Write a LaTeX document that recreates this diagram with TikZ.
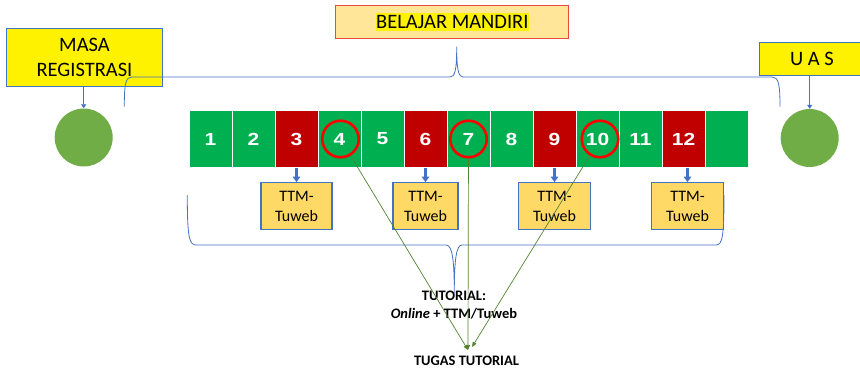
\documentclass[tikz,border=0pt]{standalone}
\usepackage{graphicx}
\usepackage{fontspec}
\setmainfont{Carlito}
\newfontfamily\arialfont{Liberation Sans}
\usetikzlibrary{arrows.meta,positioning,calc}
\definecolor{cellgreen}{RGB}{0,176,80}
\definecolor{cellred}{RGB}{192,0,0}
\definecolor{boxblue}{RGB}{68,114,196}
\definecolor{ttmfill}{RGB}{255,217,102}
\definecolor{mandirifill}{RGB}{255,230,153}
\definecolor{mandiriline}{RGB}{231,76,60}
\definecolor{dotgreen}{RGB}{112,173,71}
\definecolor{linegreen}{RGB}{84,130,53}
\tikzset{
     week cell/.style={minimum width=43pt, minimum height=57.5pt, inner sep=0pt, draw=white, line width=0.8pt,
        text=white, font=\arialfont\bfseries\fontsize{17.5}{18}\selectfont},
     ring/.style={circle, draw=red, line width=2.6pt, minimum size=36.5pt, inner sep=0pt},
     label box/.style={draw=boxblue, line width=1pt, fill=yellow, align=center, font=\fontsize{20.5}{25}\selectfont},
     mandiri box/.style={draw=mandiriline, line width=1pt, fill=mandirifill, minimum width=233pt, minimum height=33pt},
     ttm box/.style={draw=boxblue, line width=1.1pt, fill=ttmfill, minimum height=47pt, align=center,
        font=\fontsize{16}{20}\selectfont},
     ttm arrow/.style={boxblue, line width=2.4pt, -{Triangle[width=7.5pt,length=5.5pt]}},
     thin arrow/.style={boxblue, line width=0.8pt, -{Triangle[width=5pt,length=4pt]}},
     stage dot/.style={circle, fill=dotgreen, minimum size=58pt, inner sep=0pt},
     brace line/.style={boxblue, line width=0.8pt},
     tugas arrow/.style={linegreen, line width=0.7pt, -{Triangle[width=4pt,length=5pt]}},
     tut text/.style={align=center, font=\bfseries\fontsize{14.5}{18}\selectfont},
    }

\begin{document}
\begin{tikzpicture}[x=1pt, y=-1pt]
  \useasboundingbox (0,0) rectangle (860,369);

  % top labels
  \node [mandiri box] (mandiri) at (452.3,22) {};
  \node [fill=yellow, inner xsep=0.5pt, inner ysep=2pt, font=\fontsize{20.5}{24}\selectfont] (mandiri text) at (mandiri) {BELAJAR MANDIRI};
  \node [label box, minimum width=155.6pt, minimum height=57.7pt] (masa) at (84.5,57.2) {MASA\\REGISTRASI};
  \node [label box, minimum width=105.7pt, minimum height=32.3pt] (uas) at (812,58.9) {U A S};

  % weeks
  \foreach \i in {1,...,13} {
    \pgfmathtruncatemacro{\wkmod}{mod(\i,3)}
    \ifnum\wkmod=0 \def\wkcol{cellred}\else\def\wkcol{cellgreen}\fi
    \node [week cell, fill=\wkcol] (w\i) at ({167.5+43*\i},139) {\ifnum\i<13 \scalebox{1.2}[1]{\i}\fi};
  }
  \foreach \i/\dx in {4/1pt,7/0pt,10/2.5pt}
    \node [ring, xshift=\dx] (r\i) at (w\i) {};

  % TTM boxes
  \foreach \i/\bw/\dx in {3/71pt/0pt,6/65pt/0pt,9/72pt/0pt,12/72pt/4pt} {
    \node [ttm box, minimum width=\bw, below=14pt of w\i, xshift=\dx] (t\i) {TTM-\\Tuweb};
    \draw [ttm arrow] (t\i.north |- w\i.south) -- (t\i);
  }

  % start and end
  \node [stage dot] (reg) at (83.7,137.5) {};
  \node [stage dot] (ujian) at (809.7,138) {};
  \draw [thin arrow] (reg |- masa.south) -- (reg);
  \draw [thin arrow] (ujian |- uas.south) -- (ujian);

  % braces
  \draw [brace line] (124.3,106.7) .. controls (124.3,84) and (125.5,77) .. (132,77) -- (450,77)
     .. controls (455,77) and (456.7,70) .. (456.7,46.7) .. controls (456.7,70) and (458.5,77) .. (463,77)
     -- (772,77) .. controls (778.5,77) and (780,84) .. (780,106.7);
  \draw [brace line] (187.3,195) .. controls (187.3,236) and (189,245) .. (196,245) -- (446,245)
     .. controls (452,245) and (454.3,258) .. (454.3,293) .. controls (454.3,258) and (456.5,245) .. (462,245)
     -- (716,245) .. controls (722.5,245) and (724,236) .. (724,195);

  % tutorial
  \node [tut text] (tutorial) at (454,305) {TUTORIAL:\\\textit{Online} + TTM/Tuweb};
  \node [tut text] (tugas) at (466.5,360.5) {TUGAS TUTORIAL};
  \coordinate (meet) at (468,350);
  \draw [tugas arrow] (r4) -- (meet);
  \draw [tugas arrow] (r7) -- (meet);
  \draw [tugas arrow] (r10) -- ([shift={(4,-3)}]meet);
\end{tikzpicture}
\end{document}
